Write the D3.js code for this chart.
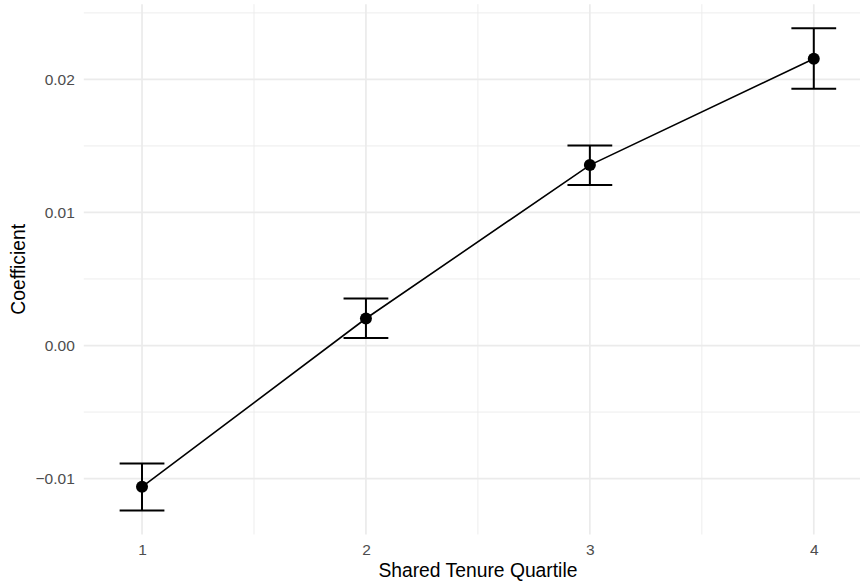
<!DOCTYPE html>
<html>
<head>
<meta charset="utf-8">
<script src="https://cdn.jsdelivr.net/npm/d3@7"></script>
<style>
html,body{margin:0;padding:0;background:#fff;}
svg{display:block;font-family:"Liberation Sans",Arial,Helvetica,sans-serif;}
</style>
</head>
<body>
<svg id="chart" width="860" height="584"></svg>
<script>
// Data
const quartiles = [1, 2, 3, 4];
const coefficients = [-0.01062, 0.00203, 0.01356, 0.02155];
const ciLower = [-0.01239, 0.00057, 0.01206, 0.01929];
const ciUpper = [-0.00886, 0.00353, 0.01504, 0.02384];
const xTicks = [1, 2, 3, 4];
const yTicks = [-0.01, 0.00, 0.01, 0.02];
const yTickLabels = ["\u22120.01", "0.00", "0.01", "0.02"];
const xMinor = [1.5, 2.5, 3.5];
const yMinor = [-0.005, 0.005, 0.015, 0.025];
const xTitle = "Shared Tenure Quartile";
const yTitle = "Coefficient";

const data = quartiles.map((q, i) => ({q, c: coefficients[i], lo: ciLower[i], hi: ciUpper[i]}));

// Layout
const W = 860, H = 584;
const panel = {left: 83.8, right: 872, top: 4.2, bottom: 534.5};
const capHalf = 0.1;

// Scales (ggplot-like 5% expansion)
const xMinD = d3.min(quartiles) - capHalf, xMaxD = d3.max(quartiles) + capHalf;
const xPad = (xMaxD - xMinD) * 0.05;
const x = d3.scaleLinear().domain([xMinD - xPad, xMaxD + xPad]).range([panel.left, panel.right]);
const yMinD = d3.min(ciLower), yMaxD = d3.max(ciUpper);
const yPad = (yMaxD - yMinD) * 0.05;
const y = d3.scaleLinear().domain([yMinD - yPad, yMaxD + yPad]).range([panel.bottom, panel.top]);

const svg = d3.select("#chart");
const grid = svg.append("g");

// Minor gridlines
grid.selectAll(".ymin").data(yMinor).join("line")
  .attr("x1", panel.left).attr("x2", panel.right)
  .attr("y1", d => y(d)).attr("y2", d => y(d))
  .attr("stroke", "#ebebeb").attr("stroke-width", 0.9);
grid.selectAll(".xmin").data(xMinor).join("line")
  .attr("y1", panel.top).attr("y2", panel.bottom)
  .attr("x1", d => x(d)).attr("x2", d => x(d))
  .attr("stroke", "#ebebeb").attr("stroke-width", 0.9);
// Major gridlines
grid.selectAll(".ymaj").data(yTicks).join("line")
  .attr("x1", panel.left).attr("x2", panel.right)
  .attr("y1", d => y(d)).attr("y2", d => y(d))
  .attr("stroke", "#ebebeb").attr("stroke-width", 1.7);
grid.selectAll(".xmaj").data(xTicks).join("line")
  .attr("y1", panel.top).attr("y2", panel.bottom)
  .attr("x1", d => x(d)).attr("x2", d => x(d))
  .attr("stroke", "#ebebeb").attr("stroke-width", 1.7);

// Axes (text only, like theme_minimal)
const yAxis = d3.axisLeft(y).tickValues(yTicks).tickSize(0).tickPadding(9)
  .tickFormat((d, i) => yTickLabels[i]);
const gy = svg.append("g").attr("transform", `translate(${panel.left},0)`).call(yAxis);
gy.select(".domain").remove();
gy.selectAll("text").attr("fill", "#4d4d4d").style("font-size", "15.5px")
  .style("font-family", "'Liberation Sans',Arial,sans-serif");

const xAxis = d3.axisBottom(x).tickValues(xTicks).tickSize(0).tickPadding(9)
  .tickFormat(d3.format("d"));
const gx = svg.append("g").attr("transform", `translate(0,${panel.bottom})`).call(xAxis);
gx.select(".domain").remove();
gx.selectAll("text").attr("fill", "#4d4d4d").style("font-size", "15.5px")
  .style("font-family", "'Liberation Sans',Arial,sans-serif");

// Axis titles
svg.append("text")
  .attr("x", (panel.left + panel.right) / 2).attr("y", 577)
  .attr("text-anchor", "middle").attr("fill", "#000")
  .style("font-size", "19.3px").text(xTitle);
svg.append("text")
  .attr("transform", `translate(25,${(panel.top + panel.bottom) / 2}) rotate(-90)`)
  .attr("text-anchor", "middle").attr("fill", "#000")
  .style("font-size", "19.3px").text(yTitle);

// Line
const line = d3.line().x(d => x(d.q)).y(d => y(d.c));
svg.append("path").datum(data).attr("d", line)
  .attr("fill", "none").attr("stroke", "#000").attr("stroke-width", 1.6);

// Error bars
const eb = svg.append("g").attr("stroke", "#000").attr("stroke-width", 2);
eb.selectAll(".v").data(data).join("line")
  .attr("x1", d => x(d.q)).attr("x2", d => x(d.q))
  .attr("y1", d => y(d.lo)).attr("y2", d => y(d.hi));
eb.selectAll(".top").data(data).join("line")
  .attr("x1", d => x(d.q - capHalf)).attr("x2", d => x(d.q + capHalf))
  .attr("y1", d => y(d.hi)).attr("y2", d => y(d.hi));
eb.selectAll(".bot").data(data).join("line")
  .attr("x1", d => x(d.q - capHalf)).attr("x2", d => x(d.q + capHalf))
  .attr("y1", d => y(d.lo)).attr("y2", d => y(d.lo));

// Points
svg.append("g").selectAll("circle").data(data).join("circle")
  .attr("cx", d => x(d.q)).attr("cy", d => y(d.c)).attr("r", 6)
  .attr("fill", "#000");
</script>
</body>
</html>
